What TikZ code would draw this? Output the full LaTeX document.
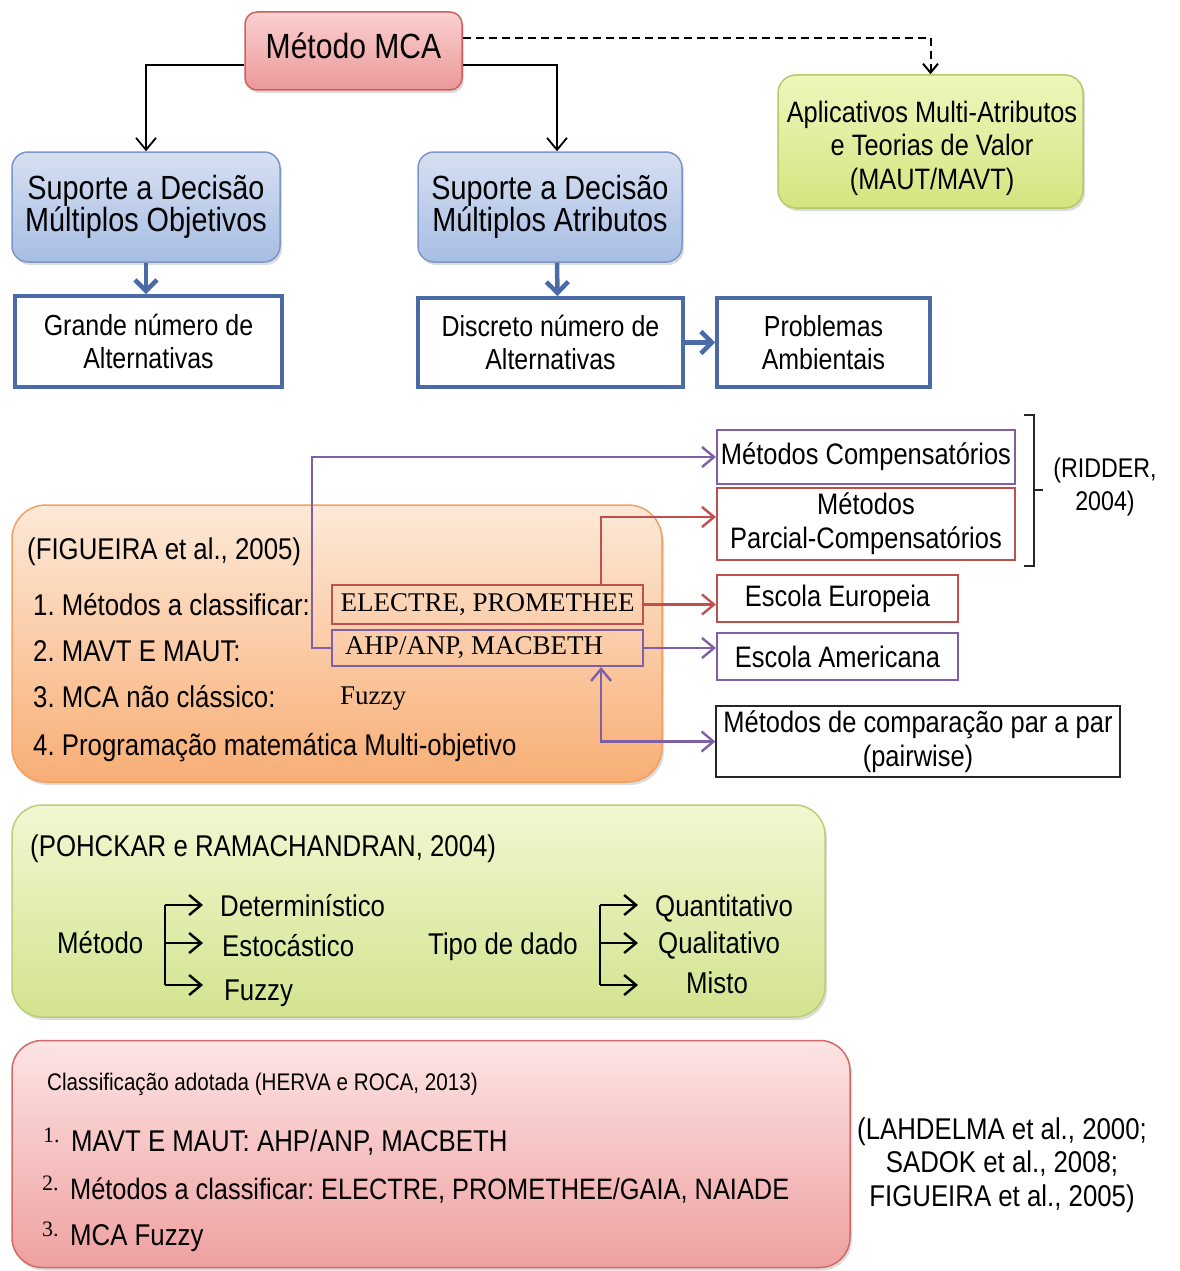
\documentclass[tikz,border=0pt]{standalone}
\usepackage{fontspec}
\setmainfont{Liberation Sans}[FakeStretch=0.86]
\newfontfamily\tms{Liberation Serif}
\usetikzlibrary{arrows.meta,calc,shadows}

\newcommand\fsz[2]{\fontsize{#1}{#2}\selectfont\lineskiplimit=-100pt\relax}
\newcommand\numb[1]{\makebox[28pt][l]{\raisebox{9pt}{\tms\fsz{22}{22}#1}}}

\definecolor{mcaTop}{HTML}{FAD0D0}
\definecolor{mcaBot}{HTML}{EC9898}
\definecolor{mcaLine}{HTML}{C9625E}
\definecolor{bluTop}{HTML}{D6E0F2}
\definecolor{bluBot}{HTML}{A7BDE3}
\definecolor{bluLine}{HTML}{7D96C8}
\definecolor{grnTop}{HTML}{EFF6BC}
\definecolor{grnBot}{HTML}{D4E57F}
\definecolor{grnLine}{HTML}{B3CA69}
\definecolor{navy}{HTML}{4A6AA8}
\definecolor{orTop}{HTML}{FDE9D8}
\definecolor{orBot}{HTML}{F8AE75}
\definecolor{orLine}{HTML}{F0A060}
\definecolor{lgTop}{HTML}{F2F7D2}
\definecolor{lgBot}{HTML}{D3E38E}
\definecolor{lgLine}{HTML}{BACF77}
\definecolor{lrTop}{HTML}{FDE4E4}
\definecolor{lrBot}{HTML}{EFA0A0}
\definecolor{lrLine}{HTML}{D06A68}
\definecolor{purp}{HTML}{7F60A6}
\definecolor{redl}{HTML}{C0504D}

\tikzset{
  shd/.style={drop shadow={shadow xshift=2pt,shadow yshift=-3pt,opacity=0.22,fill=black!60}},
  base/.style={rectangle,inner sep=0pt,align=center},
  mcabox/.style={base,rounded corners=12pt,draw=mcaLine,line width=1.5pt,top color=mcaTop,bottom color=mcaBot,shd,font=\fsz{35}{38}},
  bluebox/.style={base,rounded corners=16pt,draw=bluLine,line width=1.5pt,top color=bluTop,bottom color=bluBot,shd,font=\fsz{33.5}{32.5}},
  grnbox/.style={base,rounded corners=18pt,draw=grnLine,line width=1.5pt,top color=grnTop,bottom color=grnBot,shd},
  whbox/.style={base,draw=navy,line width=4pt,fill=white,font=\fsz{29}{33}},
  bigbox/.style={base,rounded corners=34pt,line width=1.5pt,shd},
  purbox/.style={base,draw=purp,line width=2.2pt,font=\fsz{29.6}{34}},
  redbox/.style={base,draw=redl,line width=2.2pt,font=\fsz{29.6}{34}},
  blkbox/.style={base,draw=black!85,line width=1.2pt,fill=white,font=\fsz{29.6}{34}},
  serbox/.style={base,line width=2.2pt,font=\tms\fsz{27}{30}},
  ltxt/.style={inner sep=0pt,anchor=base west,font=\fsz{30}{34}},
  barb/.style={-{Straight Barb[length=12pt,width=20pt]}},
  blk/.style={draw=black,line width=1.8pt,barb},
  thick blue/.style={draw=navy,line width=4.5pt,-{Straight Barb[length=11pt,width=22pt]}},
  pline/.style={draw=purp,line width=2.4pt},
  rline/.style={draw=redl,line width=2.4pt},
  brk/.style={draw=black,line width=2.4pt},
}

\begin{document}
\frenchspacing
\begin{tikzpicture}[x=1pt,y=-1pt]
\useasboundingbox (0,0) rectangle (1179,1271);
\fill[white] (0,0) rectangle (1179,1271);

% ---------- upper hierarchy ----------
\node[mcabox,minimum width=217,minimum height=78,text height=26pt,text depth=10pt] (mca) at (353.5,51) {Método MCA};
\node[bluebox,minimum width=268,minimum height=110] (bl) at (146,207) {Suporte a Decisão\\Múltiplos Objetivos};
\node[bluebox,minimum width=264,minimum height=110] (bm) at (550,207) {Suporte a Decisão\\Múltiplos Atributos};
\node[grnbox,minimum width=305,minimum height=133] (ap) at (930.5,141.5) {};
\node[inner sep=0pt,align=center,font=\fsz{29.5}{33.5}] (apt) at (932,148) {Aplicativos Multi-Atributos\\e Teorias de Valor\\(MAUT/MAVT)};

\node[whbox,minimum width=267,minimum height=91] (gr) at (148.5,341.5) {Grande número de\\Alternativas};
\node[whbox,minimum width=265,minimum height=89] (di) at (550.5,342.5) {Discreto número de\\Alternativas};
\node[whbox,minimum width=213,minimum height=89] (pr) at (823.5,342.5) {Problemas\\Ambientais};

\draw[blk] ($(mca.west)+(0,14)$) -| (bl.north);
\draw[blk] ($(mca.east)+(0,14)$) -| ($(bm.north)+(7,0)$);
\draw[draw=black,line width=2pt,dash pattern=on 8pt off 5pt,-{Straight Barb[length=9pt,width=15pt]}]
  ($(mca.east)+(0,-13)$) -| (ap.north);

\draw[thick blue] (bl.south) -- (bl.south |- gr.north);
\draw[thick blue] ($(bm.south)+(7,0)$) -- ($(di.north)+(7,0)$);
\draw[thick blue] (di.east) -- (pr.west);

% ---------- FIGUEIRA block ----------
\node[bigbox,draw=orLine,top color=orTop,bottom color=orBot,minimum width=650,minimum height=277] (orng) at (337,643.5) {};
\node[serbox,draw=redl,minimum width=311,minimum height=39] (el) at (487.5,604.5) {ELECTRE, PROMETHEE};
\node[serbox,draw=purp,minimum width=311,minimum height=36,inner xsep=13pt] (ah) at (487.5,648) {\makebox[285pt][l]{AHP/ANP, MACBETH}};

\node[ltxt] (f0) at (27,559) {(FIGUEIRA et al., 2005)};
\node[ltxt] (f1) at (33,615) {1. Métodos a classificar:};
\node[ltxt] (f2) at (33,661) {2. MAVT E MAUT:};
\node[ltxt] (f3) at (33,707) {3. MCA não clássico:};
\node[ltxt] (f4) at (33,755) {4. Programação matemática Multi-objetivo};
\node[inner sep=0pt,anchor=base west,font=\tms\fsz{27}{30}] (ffz) at (340,704) {Fuzzy};

% ---------- classification boxes on the right ----------
\node[purbox,minimum width=298,minimum height=54] (comp) at (866,457) {Métodos Compensatórios};
\node[redbox,minimum width=298,minimum height=72] (parc) at (866,524) {Métodos\\Parcial-Compensatórios};
\node[redbox,minimum width=241,minimum height=47] (euro) at (837.5,598.5) {Escola Europeia};
\node[purbox,minimum width=241,minimum height=47] (amer) at (837.5,656.5) {Escola Americana};
\node[blkbox,minimum width=404,minimum height=71] (pair) at (918,741.5) {Métodos de comparação par a par\\(pairwise)};
\node[inner sep=0pt,align=center,font=\fsz{27}{33}] (rid) at (1105,487) {(RIDDER,\\2004)};

\draw[line width=1.5pt,black!85] (1024,415) -- (1034,415) -- (1034,566) -- (1024,566);
\draw[line width=1.5pt,black!85] (1034,490) -- (1043,490);

\draw[pline,barb] (ah.west) -- ++(-19,0) |- (comp.west);
\draw[rline,barb] ($(el.north east)+(-43,0)$) |- ($(parc.west)+(0,-7)$);
\draw[rline,barb] (el.east) -- (el.east -| euro.west);
\draw[pline,barb] (ah.east) -- (ah.east -| amer.west);
\draw[pline,{Straight Barb[length=12pt,width=20pt]}-{Straight Barb[length=12pt,width=20pt]}]
  ($(ah.south east)+(-43,0)$) |- (pair.west);

% ---------- POHCKAR block ----------
\node[bigbox,rounded corners=30pt,draw=lgLine,top color=lgTop,bottom color=lgBot,minimum width=813,minimum height=212] (gbox) at (418.5,911) {};
\node[ltxt] (poh) at (30,856) {(POHCKAR e RAMACHANDRAN, 2004)};
\node[ltxt] (met) at (57,953) {Método};
\node[ltxt] (det) at (220,916) {Determinístico};
\node[ltxt] (est) at (222,956) {Estocástico};
\node[ltxt] (fzy) at (224,1000) {Fuzzy};
\node[ltxt] (tip) at (428,954) {Tipo de dado};
\node[ltxt] (qua) at (655,916) {Quantitativo};
\node[ltxt] (qul) at (658,953) {Qualitativo};
\node[ltxt] (mis) at (686,993) {Misto};

\coordinate (ma) at (165,905);
\coordinate (mb) at (165,943);
\coordinate (mc) at (165,985);
\coordinate (ta) at (203,905);
\coordinate (tb) at (203,943);
\coordinate (tc) at (203,985);
\draw[brk] (ma) -- (mc);
\draw[brk,barb] (ma) -- (ta);
\draw[brk,barb] (mb) -- (tb);
\draw[brk,barb] (mc) -- (tc);

\coordinate (na) at (600,905);
\coordinate (nb) at (600,943);
\coordinate (nc) at (600,985);
\coordinate (ua) at (638,905);
\coordinate (ub) at (638,943);
\coordinate (uc) at (638,985);
\draw[brk] (na) -- (nc);
\draw[brk,barb] (na) -- (ua);
\draw[brk,barb] (nb) -- (ub);
\draw[brk,barb] (nc) -- (uc);

% ---------- HERVA block ----------
\node[bigbox,rounded corners=30pt,draw=lrLine,top color=lrTop,bottom color=lrBot,minimum width=838,minimum height=227] (rbox) at (431,1154) {};
\node[ltxt,font=\fsz{24}{28}] (cls) at (47,1090) {Classificação adotada (HERVA e ROCA, 2013)};
\node[ltxt] (h1) at (43,1151) {\numb{1.}MAVT E MAUT: AHP/ANP, MACBETH};
\node[ltxt,font=\fsz{29.5}{34}] (h2) at (42,1199) {\numb{2.}Métodos a classificar: ELECTRE, PROMETHEE/GAIA, NAIADE};
\node[ltxt] (h3) at (42,1245) {\numb{3.}MCA Fuzzy};
\node[inner sep=0pt,align=center,font=\fsz{30}{33.5}] (lah) at (1002,1165) {(LAHDELMA et al., 2000;\\SADOK et al., 2008;\\FIGUEIRA et al., 2005)};
\end{tikzpicture}
\end{document}
